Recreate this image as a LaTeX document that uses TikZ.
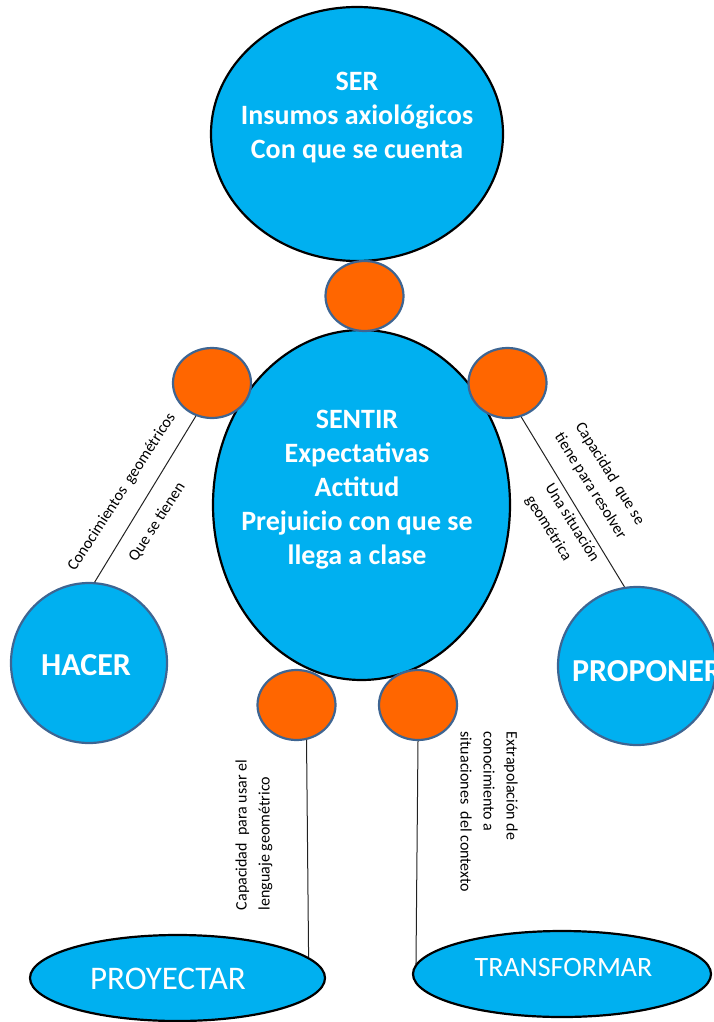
\documentclass[tikz,border=0pt]{standalone}
\usepackage{fontspec}
\setmainfont{Carlito}
\usetikzlibrary{shapes.geometric}
\definecolor{skyfill}{HTML}{00B0F0}
\definecolor{jointfill}{HTML}{FF6600}
\definecolor{slate}{HTML}{3E6592}
\definecolor{linkgray}{HTML}{222222}
\begin{document}
\begin{tikzpicture}[x=1pt,y=-1pt,
  bigoval/.style={ellipse, draw=black, line width=2.2pt, fill=skyfill, inner sep=0pt},
  sideoval/.style={ellipse, draw=slate, line width=2.2pt, fill=skyfill, inner sep=0pt},
  joint/.style={ellipse, draw=slate, line width=2.2pt, fill=jointfill,
                minimum width=78pt, minimum height=70pt, inner sep=0pt},
  headtext/.style={text=white, font=\bfseries\fontsize{28}{34}\selectfont, align=center, inner sep=0pt},
  limbtext/.style={text=white, font=\bfseries\fontsize{32}{36}\selectfont, inner sep=0pt},
  foottext/.style={text=white, inner sep=0pt},
  note/.style={text=black, font=\fontsize{16}{23}\selectfont, inner sep=0pt},
  link/.style={draw=linkgray, line width=1pt}
]
\useasboundingbox (0,0) rectangle (713,1022);

% head and body
\node[bigoval, minimum width=292pt, minimum height=254pt] (ser) at (357,134) {};
\node[bigoval, minimum width=297pt, minimum height=350pt] (sentir) at (361.5,505) {};

% joints
\node[joint] (neck) at (364.5,296) {};
\node[joint] (ls) at (212,383) {};
\node[joint] (rs) at (507.5,383) {};
\node[joint] (lb) at (296.5,705) {};
\node[joint] (rb) at (418,705) {};

% limbs
\node[sideoval, minimum width=156pt, minimum height=160pt] (hacer) at (89,663) {};
\node[sideoval, minimum width=158pt, minimum height=158pt] (proponer) at (637,666) {};
\node[bigoval, minimum width=295pt, minimum height=86pt] (proyectar) at (177.5,978) {};
\node[bigoval, minimum width=298pt, minimum height=86pt] (transformar) at (562,974) {};

% connectors
\draw[link] (ls.244) -- (hacer.86);
\draw[link] (rs.292) -- (proponer.99);
\draw[link] (lb.286) -- (proyectar.9);
\draw[link] (rb.south) -- (transformar.176);

% texts inside the shapes
\node[headtext] (sertxt) at (357,118) {SER\\Insumos axiológicos\\Con que se cuenta};
\node[headtext] (sentirtxt) at (357,489.5) {SENTIR\\Expectativas\\Actitud\\Prejuicio con que se\\llega a clase};
\node[limbtext] (hacertxt) at (86,665) {HACER};
\node[limbtext] (proponertxt) at (647,671) {PROPONER};
\node[foottext, font=\fontsize{33}{36}\selectfont] (proyectartxt) at (168,979) {PROYECTAR};
\node[foottext, font=\fontsize{28}{32}\selectfont] (transformartxt) at (563.5,967.5) {TRANSFORMAR};

% notes along the connectors
\node[note, rotate=57] (conoc) at (122,492) {Conocimientos~~geométricos};
\node[note, rotate=57] (tienen) at (157,522) {Que se tienen};
\node[note, rotate=-58, align=center] (capres) at (600,480) {Capacidad~~que se\\tiene para resolver};
\node[note, rotate=-58, align=left] (situac) at (562,529) {Una situación\\geométrica};
\node[note, rotate=90, align=left] (lenguaje) at (254,835) {Capacidad~~para usar el\\lenguaje geométrico};
\node[note, rotate=-90, align=left] (extrap) at (489,812) {Extrapolación de\\conocimiento a\\situaciones~~del contexto};
\end{tikzpicture}
\end{document}
